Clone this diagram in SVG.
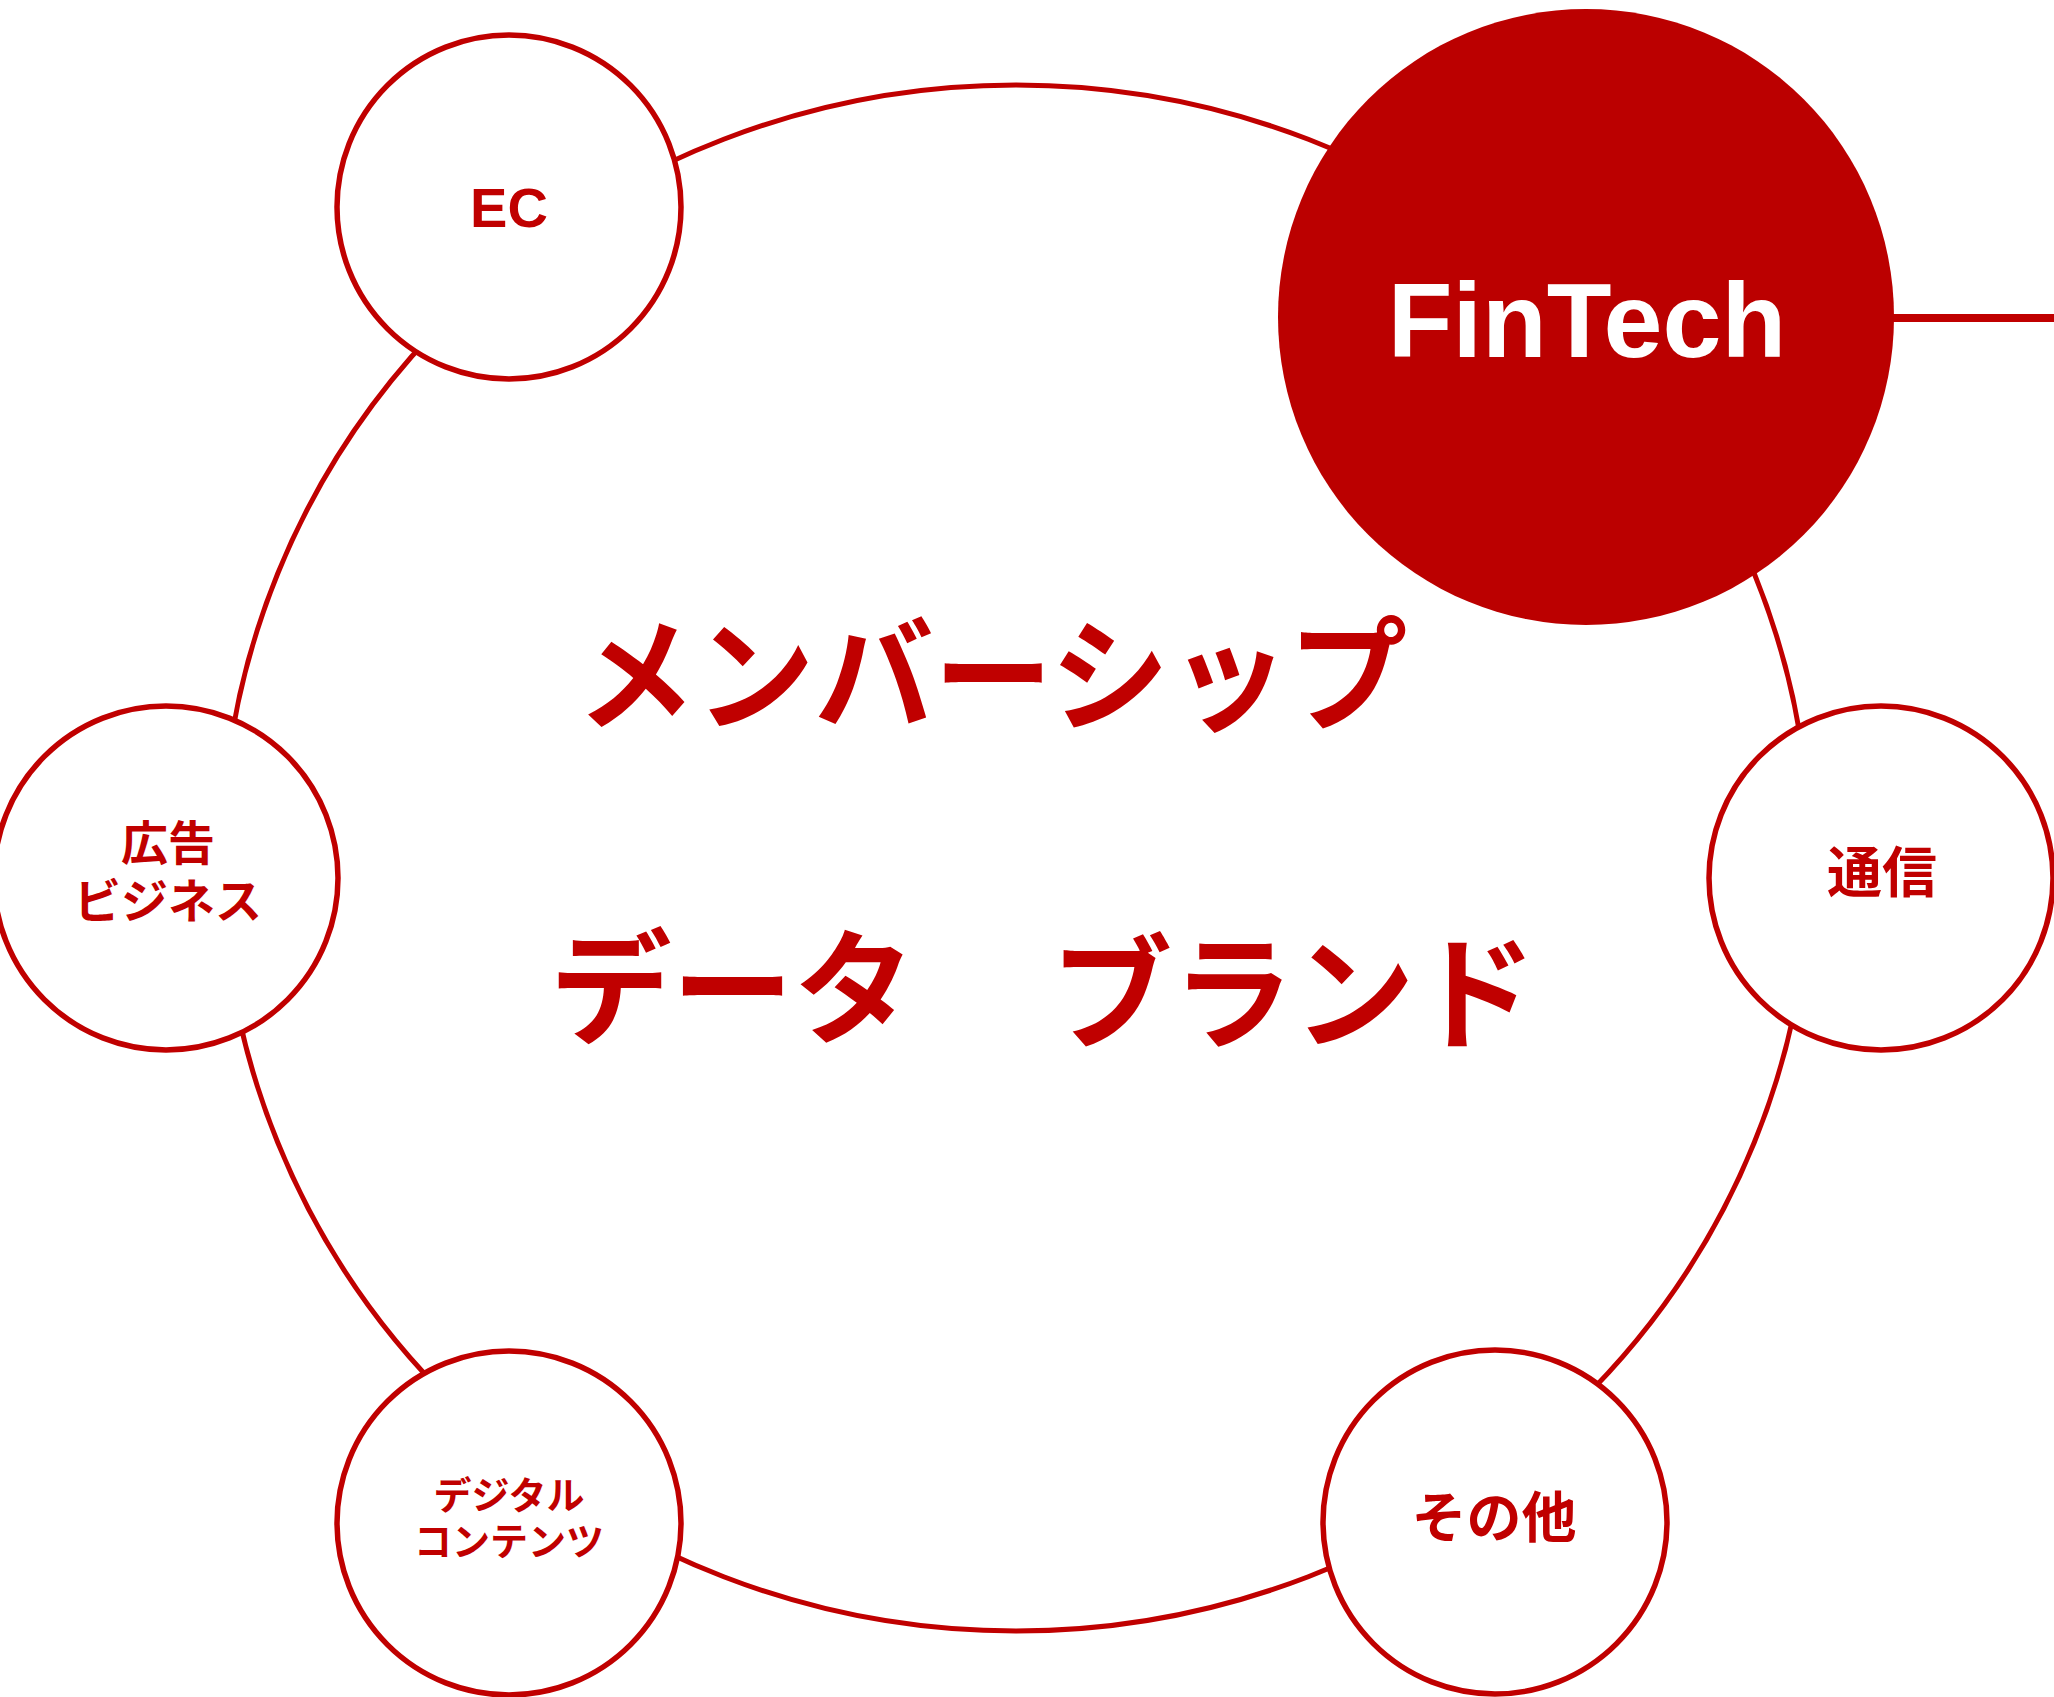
<svg xmlns="http://www.w3.org/2000/svg" width="2054" height="1697" viewBox="0 0 2054 1697">
<style>
.node{fill:#fff;stroke:#C00000;stroke-width:5.5}
.lbl{fill:#C00000;font-family:"Noto Sans CJK JP","Noto Sans",sans-serif;font-weight:700;text-anchor:middle}
.en{fill:#C00000;font-family:"Liberation Sans",Arial,sans-serif;font-weight:700;text-anchor:middle}
.big{fill:#C00000;font-family:"Noto Sans CJK JP",sans-serif;font-weight:700}
.conn{fill:none;stroke:#C00000}
</style>
<rect width="2054" height="1697" fill="#fff"/>
<g id="connectors">
<ellipse class="conn" cx="1016" cy="858" rx="794" ry="773" stroke-width="5"/>
<line class="conn" x1="1890" y1="318" x2="2054" y2="318" stroke-width="8"/>
</g>
<g id="center-text">
<text class="big" x="992" y="721" font-size="124" text-anchor="middle" textLength="831" lengthAdjust="spacingAndGlyphs">メンバーシップ</text>
<text class="big" x="550" y="1034" font-size="124" textLength="365" lengthAdjust="spacingAndGlyphs">データ</text>
<text class="big" x="1051" y="1039" font-size="124" textLength="485" lengthAdjust="spacingAndGlyphs">ブランド</text>
</g>
<g id="node-ec">
<circle class="node" cx="509" cy="207" r="172"/>
<text class="en" x="509" y="227" font-size="56">EC</text>
</g>
<g id="node-fintech">
<circle cx="1586" cy="317" r="308" fill="#BB0000"/>
<text x="1587" y="357" font-size="106" fill="#fff" font-family="Liberation Sans, Arial, sans-serif" font-weight="700" text-anchor="middle">FinTech</text>
</g>
<g id="node-ad">
<circle class="node" cx="166" cy="878" r="172"/>
<text class="lbl" font-size="47"><tspan x="168" y="860">広告</tspan><tspan x="168" y="918">ビジネス</tspan></text>
</g>
<g id="node-telecom">
<circle class="node" cx="1881" cy="878" r="172"/>
<text class="lbl" x="1882" y="892" font-size="55">通信</text>
</g>
<g id="node-digital">
<circle class="node" cx="509" cy="1523" r="172"/>
<text class="lbl" font-size="38"><tspan x="509" y="1509">デジタル</tspan><tspan x="509" y="1555">コンテンツ</tspan></text>
</g>
<g id="node-other">
<circle class="node" cx="1495" cy="1522" r="172"/>
<text class="lbl" x="1494" y="1537" font-size="55">その他</text>
</g>
</svg>
